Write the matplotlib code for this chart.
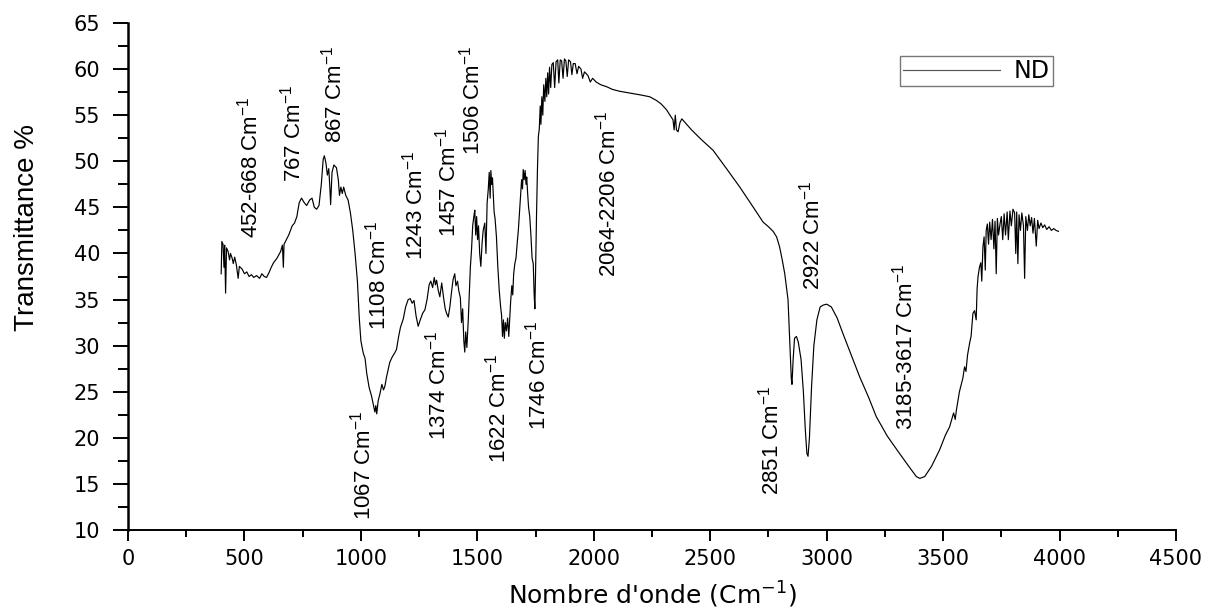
import matplotlib
matplotlib.use("Agg")
import matplotlib.pyplot as plt
from matplotlib import font_manager
from matplotlib.ticker import MultipleLocator

# FTIR spectrum, values
wavenumber = [400, 403, 408, 412, 415, 419, 423, 430, 436, 440, 447, 452, 458, 465, 473, 478, 490, 500,
              510, 520, 530, 540, 552, 565, 575, 585, 595, 605, 615, 625, 640, 655, 663, 667, 670, 690,
              705, 715, 725, 735, 745, 757, 767, 780, 790, 800, 810, 820, 830, 838, 843, 850, 856, 862,
              867, 870, 876, 884, 895, 903, 908, 914, 920, 926, 935, 945, 955, 965, 975, 985, 993, 1000,
              1010, 1018, 1025, 1035, 1046, 1055, 1060, 1064, 1068, 1074, 1082, 1090, 1097, 1103, 1110,
              1118, 1124, 1135, 1145, 1153, 1162, 1170, 1182, 1192, 1203, 1212, 1220, 1228, 1237, 1246,
              1255, 1265, 1275, 1284, 1293, 1300, 1308, 1315, 1320, 1325, 1332, 1339, 1347, 1355, 1362,
              1368, 1375, 1382, 1390, 1396, 1403, 1408, 1415, 1420, 1427, 1432, 1437, 1442, 1446, 1450,
              1455, 1461, 1466, 1470, 1475, 1480, 1485, 1489, 1493, 1497, 1501, 1505, 1510, 1515, 1520,
              1525, 1532, 1537, 1542, 1547, 1551, 1555, 1558, 1562, 1565, 1568, 1572, 1576, 1582, 1588,
              1594, 1600, 1604, 1608, 1612, 1616, 1620, 1625, 1630, 1635, 1639, 1643, 1648, 1652, 1656,
              1661, 1666, 1671, 1676, 1681, 1686, 1690, 1694, 1697, 1701, 1705, 1709, 1712, 1716, 1720,
              1725, 1730, 1735, 1740, 1744, 1747, 1750, 1754, 1758, 1762, 1766, 1770, 1773, 1777, 1781,
              1785, 1790, 1794, 1798, 1802, 1806, 1810, 1815, 1820, 1826, 1832, 1838, 1845, 1850, 1856,
              1862, 1868, 1874, 1880, 1886, 1892, 1900, 1906, 1912, 1920, 1928, 1935, 1945, 1952, 1960,
              1975, 1985, 1995, 2010, 2030, 2054, 2080, 2110, 2155, 2200, 2240, 2269, 2290, 2312, 2330,
              2340, 2345, 2350, 2355, 2362, 2370, 2378, 2385, 2420, 2460, 2512, 2570, 2627, 2680, 2727,
              2750, 2770, 2785, 2798, 2810, 2820, 2834, 2842, 2848, 2851, 2856, 2862, 2870, 2878, 2890,
              2900, 2908, 2915, 2920, 2926, 2935, 2945, 2958, 2972, 2985, 3000, 3020, 3045, 3070, 3105,
              3142, 3180, 3213, 3260, 3313, 3350, 3385, 3400, 3421, 3450, 3485, 3510, 3528, 3545, 3552,
              3557, 3570, 3585, 3592, 3598, 3605, 3614, 3620, 3628, 3635, 3642, 3646, 3650, 3656, 3662,
              3666, 3671, 3676, 3681, 3685, 3690, 3695, 3700, 3706, 3712, 3718, 3723, 3728, 3733, 3738,
              3745, 3750, 3756, 3762, 3768, 3775, 3780, 3787, 3793, 3800, 3807, 3812, 3816, 3821, 3826,
              3832, 3838, 3845, 3850, 3855, 3862, 3868, 3874, 3880, 3886, 3892, 3900, 3906, 3912, 3920,
              3928, 3936, 3945, 3955, 3965, 3975, 3985, 3995]
transmittance = [37.8, 41.3, 41.0, 38.5, 40.9, 35.7, 40.6, 40.2, 39.3, 40.0, 39.5, 38.9, 39.6, 38.8, 37.3,
                 38.6, 38.3, 37.8, 38.0, 37.5, 37.7, 37.4, 37.6, 37.3, 37.8, 37.5, 37.4, 37.9, 38.5, 39.0,
                 39.5, 40.2, 40.9, 38.5, 41.0, 42.0, 43.0, 43.3, 44.0, 45.5, 46.0, 45.5, 45.2, 45.8, 46.0,
                 45.0, 44.8, 45.2, 47.5, 50.2, 50.6, 49.8, 48.5, 49.2, 47.0, 45.3, 48.8, 49.6, 49.3, 48.0,
                 46.3, 47.2, 46.5, 47.2, 46.3, 45.8, 44.4, 42.5, 40.0, 37.0, 33.0, 30.5, 29.2, 28.6, 27.0,
                 25.5, 24.5, 23.4, 22.8, 23.5, 22.6, 24.0, 24.8, 25.8, 25.2, 25.6, 26.6, 27.5, 28.2, 28.8,
                 29.2, 29.6, 31.0, 32.0, 32.9, 34.2, 35.0, 35.1, 34.6, 34.9, 33.2, 32.1, 32.8, 33.5, 33.9,
                 35.0, 36.6, 37.0, 36.3, 37.4, 36.6, 37.1, 36.0, 35.3, 36.8, 35.2, 34.0, 33.5, 33.1, 34.2,
                 36.0, 37.2, 37.8, 36.5, 37.0, 36.0, 35.2, 32.5, 34.0, 30.5, 29.3, 31.5, 29.8, 32.8, 36.0,
                 38.5, 40.4, 43.0, 44.0, 44.7, 42.0, 44.0, 41.5, 43.0, 40.0, 38.6, 41.0, 42.5, 43.3, 40.0,
                 45.5, 47.0, 48.8, 46.0, 49.0, 47.5, 48.2, 46.5, 44.5, 43.8, 41.8, 38.5, 36.0, 34.2, 33.3,
                 31.0, 32.8, 30.8, 32.5, 31.6, 33.0, 31.0, 32.8, 34.8, 36.5, 35.5, 37.8, 38.9, 39.5, 41.1,
                 42.5, 44.5, 46.5, 48.0, 47.0, 49.1, 48.0, 49.0, 47.5, 48.3, 46.5, 45.0, 44.0, 42.0, 39.5,
                 38.9, 35.5, 34.0, 38.0, 44.0, 49.0, 52.7, 53.5, 56.0, 54.0, 57.0, 55.0, 58.3, 56.5, 59.0,
                 57.0, 59.6, 57.3, 60.2, 58.0, 60.5, 60.7, 58.0, 60.8, 61.0, 58.5, 61.0, 60.9, 59.0, 61.1,
                 60.9, 59.2, 61.0, 60.8, 59.4, 60.6, 60.6, 59.5, 60.3, 60.0, 59.0, 59.7, 59.3, 58.6, 59.0,
                 58.6, 58.3, 58.1, 57.8, 57.6, 57.4, 57.2, 57.0, 56.6, 56.2, 55.6, 54.9, 54.5, 53.4, 55.0,
                 53.4, 53.2, 54.2, 54.6, 54.4, 53.4, 52.4, 51.2, 49.2, 47.2, 45.2, 43.4, 42.9, 42.4, 41.8,
                 40.7, 39.2, 37.8, 35.0, 30.0, 26.5, 25.8, 28.5, 30.8, 31.0, 30.4, 28.5, 25.0, 21.0, 18.3,
                 18.0, 20.0, 25.5, 30.0, 32.8, 34.2, 34.4, 34.5, 34.2, 33.0, 31.3, 29.0, 26.6, 24.4, 22.3,
                 20.2, 18.3, 17.0, 15.8, 15.6, 15.8, 16.9, 18.7, 20.3, 21.2, 22.7, 22.0, 23.0, 25.0, 26.5,
                 27.7, 27.2, 29.0, 30.3, 31.0, 33.5, 33.8, 32.8, 36.2, 37.5, 38.5, 39.0, 37.0, 40.7, 41.8,
                 38.2, 42.5, 43.2, 41.0, 43.4, 41.5, 43.7, 40.5, 43.5, 37.8, 43.8, 42.0, 43.3, 44.0, 41.5,
                 44.3, 42.0, 44.5, 41.5, 44.6, 43.0, 44.8, 44.4, 40.0, 44.5, 38.9, 44.2, 42.5, 44.4, 43.0,
                 37.3, 44.0, 42.5, 44.2, 43.0, 43.9, 42.2, 43.8, 40.8, 43.6, 42.7, 43.3, 42.8, 43.1, 42.6,
                 42.9, 42.5, 42.7, 42.5, 42.4]

# band labels: text, wavenumber position, bottom of label (in % units)
band_labels = ['452-668', '767', '867', '1067', '1108', '1243', '1374', '1457', '1506',
               '1622', '1746', '2064-2206', '2851', '2922', '3185-3617']
band_x = [524, 706, 884, 1005, 1071, 1232, 1328, 1371, 1474, 1588, 1760, 2060, 2760, 2936, 3335]
band_y = [41.7, 47.75, 52.0, 11.1, 31.7, 39.3, 19.8, 41.8, 50.7, 17.3, 20.8, 37.4, 13.8, 36.0, 20.8]

# narrow font for the vertical labels if available
installed = {f.name for f in font_manager.fontManager.ttflist}
if 'Liberation Sans Narrow' in installed:
    narrow = 'Liberation Sans Narrow'
    ann_size, ylab_size = 18, 24
else:
    narrow = 'Liberation Sans'
    ann_size, ylab_size = 16, 20

plt.rcParams['mathtext.default'] = 'regular'

fig = plt.figure(figsize=(12.1, 6.1), dpi=100)
ax = fig.add_axes([0.1058, 0.1311, 0.8661, 0.8312])

ax.plot(wavenumber, transmittance, color='black', linewidth=0.85, label='ND')

for txt, bx, by in zip(band_labels, band_x, band_y):
    ax.text(bx, by, txt + ' Cm$^{-1}$', rotation=90, ha='center', va='bottom',
            fontsize=ann_size, family=narrow)

ax.set_xlim(0, 4500)
ax.set_ylim(10, 65)
ax.xaxis.set_major_locator(MultipleLocator(500))
ax.xaxis.set_minor_locator(MultipleLocator(250))
ax.yaxis.set_major_locator(MultipleLocator(5))
ax.yaxis.set_minor_locator(MultipleLocator(2.5))

ax.spines['top'].set_visible(False)
ax.spines['right'].set_visible(False)
ax.spines['left'].set_linewidth(1.8)
ax.spines['bottom'].set_linewidth(1.4)

ax.tick_params(axis='x', which='major', direction='out', length=8, width=1.4, pad=6, labelsize=15)
ax.tick_params(axis='x', which='minor', direction='out', length=5, width=1.4)
ax.tick_params(axis='y', which='major', direction='out', length=11, width=1.4, pad=9, labelsize=15)
ax.tick_params(axis='y', which='minor', direction='out', length=7, width=1.4)

ax.set_xlabel("Nombre d'onde (Cm$^{-1}$)", fontsize=18)
ax.xaxis.set_label_coords(0.5, -0.098)
ax.set_ylabel("Transmittance %", fontsize=ylab_size, family=narrow)
ax.yaxis.set_label_coords(-0.084, 0.596)

leg = ax.legend(loc='upper left', bbox_to_anchor=(0.7366, 0.935), borderaxespad=0,
                fancybox=False, edgecolor='#555555', fontsize=17, handlelength=4.1,
                handletextpad=0.6, borderpad=0.12)
leg.get_frame().set_linewidth(1.0)
leg.get_lines()[0].set_color('#555555')

fig.savefig('out.png', dpi=100)
